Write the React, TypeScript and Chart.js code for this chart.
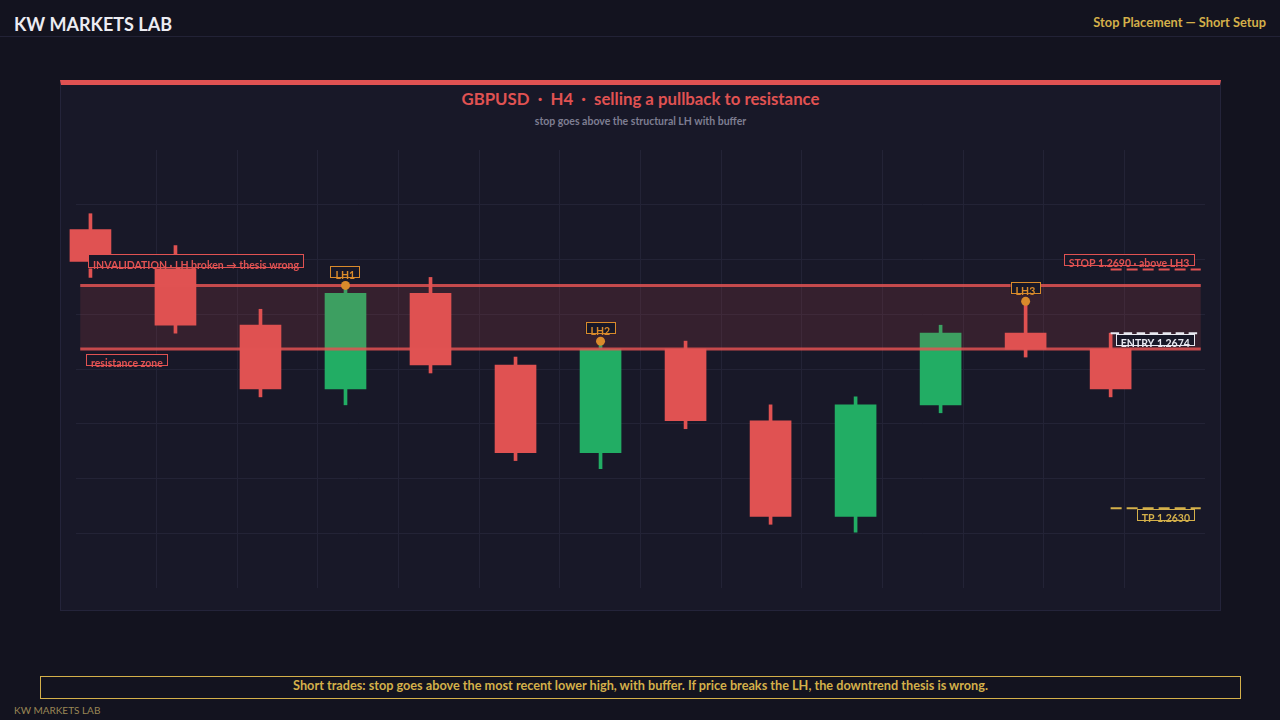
import { useEffect, useRef } from 'react';
import { Chart, registerables } from 'chart.js';

Chart.register(...registerables);

// candle data (GBPUSD H4)
const candleIdx = [0, 1, 2, 3, 4, 5, 6, 7, 8, 9, 10, 11, 12];
const opens = [1.2700, 1.2692, 1.2676, 1.2660, 1.2684, 1.2666, 1.2644, 1.2670, 1.2652, 1.2628, 1.2656, 1.2674, 1.2670];
const highs = [1.2704, 1.2696, 1.2680, 1.2686, 1.2688, 1.2668, 1.2672, 1.2672, 1.2656, 1.2658, 1.2676, 1.2682, 1.2674];
const lows = [1.2688, 1.2674, 1.2658, 1.2656, 1.2664, 1.2642, 1.2640, 1.2650, 1.2626, 1.2624, 1.2654, 1.2668, 1.2658];
const closes = [1.2692, 1.2676, 1.2660, 1.2684, 1.2666, 1.2644, 1.2670, 1.2652, 1.2628, 1.2656, 1.2674, 1.2670, 1.2660];

// lower highs
const lhIdx = [3, 6, 11];
const lhLabels = ['LH1', 'LH2', 'LH3'];

// levels
const ZONE_LOW = 1.2670;
const ZONE_HIGH = 1.2686;
const STOP = 1.2690;
const ENTRY = 1.2674;
const TP = 1.2630;

const X_MIN = -0.17;
const X_MAX = 13.11;
const ZONE_START = -0.12;
const LEVEL_START = 12;
const LEVEL_END = 13.06;
const Y_MIN = 1.2610;
const Y_MAX = 1.2720;

const RED = '#e05252';
const GREEN = '#22ad64';
const ORANGE = '#d98a2b';
const GOLD = '#d4b04a';
const WHITE = '#e8e8f0';
const PANEL = '#181828';
const GRID = '#232336';
const FAMILY = 'Lato, "Open Sans", sans-serif';
const FONT = `700 10.5px ${FAMILY}`;

const BODY_DS = 4;

type Anchor = 'left' | 'right' | 'center';

function tag(ctx: CanvasRenderingContext2D, text: string, x: number, top: number, anchor: Anchor, border: string, color: string, h = 12) {
  ctx.font = FONT;
  const w = Math.round(ctx.measureText(text).width + 10);
  const left = anchor === 'left' ? x : anchor === 'right' ? x - w : x - w / 2;
  ctx.fillStyle = PANEL;
  ctx.fillRect(left, top, w, h);
  ctx.fillStyle = color;
  ctx.textBaseline = 'alphabetic';
  ctx.textAlign = 'left';
  ctx.fillText(text, left + 5, top + h + 0.5);
  ctx.strokeStyle = border;
  ctx.lineWidth = 1;
  ctx.strokeRect(Math.round(left) + 0.5, Math.round(top) + 0.5, w - 1, h - 1);
}

const overlayPlugin = {
  id: 'overlay',
  afterDatasetDraw(chart: any, args: any) {
    if (args.index !== BODY_DS) return;
    const { ctx, scales: { x, y } } = chart;
    const x0 = x.getPixelForValue(ZONE_START);
    const x1 = x.getPixelForValue(LEVEL_END);
    const yt = y.getPixelForValue(ZONE_HIGH);
    const yb = y.getPixelForValue(ZONE_LOW);
    ctx.save();
    ctx.fillStyle = 'rgba(224,82,82,0.15)';
    ctx.fillRect(x0, yt, x1 - x0, yb - yt);
    ctx.strokeStyle = 'rgba(224,82,82,0.85)';
    ctx.lineWidth = 3;
    ctx.beginPath();
    ctx.moveTo(x0, yt); ctx.lineTo(x1, yt);
    ctx.moveTo(x0, yb); ctx.lineTo(x1, yb);
    ctx.stroke();
    ctx.restore();
  },
  afterDatasetsDraw(chart: any) {
    const { ctx, chartArea, scales: { x, y } } = chart;
    ctx.save();
    tag(ctx, 'INVALIDATION · LH broken → thesis wrong', chartArea.left + 12, y.getPixelForValue(STOP) - 15, 'left', RED, RED, 14);
    tag(ctx, 'resistance zone', chartArea.left + 10, y.getPixelForValue(ZONE_LOW) + 5, 'left', RED, RED);
    lhIdx.forEach((i, k) => {
      tag(ctx, lhLabels[k], x.getPixelForValue(i), y.getPixelForValue(highs[i]) - 19, 'center', ORANGE, ORANGE);
    });
    const right = x.getPixelForValue(LEVEL_END) - 6;
    tag(ctx, 'STOP 1.2690 · above LH3', right, y.getPixelForValue(STOP) - 15, 'right', RED, RED);
    tag(ctx, 'ENTRY 1.2674', right, y.getPixelForValue(ENTRY) + 1, 'right', WHITE, WHITE);
    tag(ctx, 'TP 1.2630', right, y.getPixelForValue(TP) + 1, 'right', GOLD, GOLD);
    ctx.restore();
  },
};

function CandleChart() {
  const canvasRef = useRef<HTMLCanvasElement | null>(null);
  const chartRef = useRef<Chart | null>(null);

  useEffect(() => {
    if (!canvasRef.current) return;
    if (chartRef.current) chartRef.current.destroy();

    const candleColors = candleIdx.map(i => (closes[i] >= opens[i] ? GREEN : RED));
    const levelLine = (v: number, color: string, dash: number[]) => ({
      type: 'line' as const,
      data: [{ x: LEVEL_START, y: v }, { x: LEVEL_END, y: v }],
      borderColor: color,
      borderWidth: 2,
      borderDash: dash,
      pointRadius: 0,
    });

    chartRef.current = new Chart(canvasRef.current, {
      type: 'bar',
      data: {
        datasets: [
          levelLine(STOP, RED, [11, 5]) as any,
          levelLine(ENTRY, WHITE, [8.5, 4.5]) as any,
          levelLine(TP, GOLD, [11, 5]) as any,
          {
            type: 'scatter',
            data: lhIdx.map(i => ({ x: i, y: highs[i] })),
            backgroundColor: ORANGE,
            borderWidth: 0,
            pointRadius: 4.5,
          } as any,
          {
            data: candleIdx.map(i => ({ x: i, y: [opens[i], closes[i]] })),
            backgroundColor: candleColors,
            borderWidth: 0,
            barThickness: 41,
            grouped: false,
            clip: false,
          } as any,
          {
            data: candleIdx.map(i => ({ x: i, y: [lows[i], highs[i]] })),
            backgroundColor: candleColors,
            borderWidth: 0,
            barThickness: 3,
            grouped: false,
            clip: false,
          } as any,
        ],
      },
      options: {
        responsive: true,
        maintainAspectRatio: false,
        animation: false,
        layout: { padding: { left: 16, right: 16, top: 70, bottom: 23 } },
        plugins: { legend: { display: false }, tooltip: { enabled: false } },
        scales: {
          x: {
            type: 'linear',
            min: X_MIN,
            max: X_MAX,
            offset: false,
            ticks: { display: false },
            border: { display: false },
            grid: { color: GRID, lineWidth: 1, offset: false, drawTicks: false },
            afterBuildTicks: (axis: any) => {
              const step = (X_MAX - X_MIN) / 14;
              axis.ticks = Array.from({ length: 13 }, (_, k) => ({ value: X_MIN + (k + 1) * step }));
            },
          },
          y: {
            type: 'linear',
            min: Y_MIN,
            max: Y_MAX,
            ticks: { display: false },
            border: { display: false },
            grid: { color: GRID, lineWidth: 1, drawTicks: false },
            afterBuildTicks: (axis: any) => {
              const step = (Y_MAX - Y_MIN) / 8;
              axis.ticks = Array.from({ length: 7 }, (_, k) => ({ value: Y_MIN + (k + 1) * step }));
            },
          },
        },
      } as any,
      plugins: [overlayPlugin],
    });

    return () => {
      if (chartRef.current) {
        chartRef.current.destroy();
        chartRef.current = null;
      }
    };
  }, []);

  return (
    <div style={{ position: 'absolute', left: 60, top: 80, width: 1161, height: 531 }}>
      <canvas ref={canvasRef} aria-label="GBPUSD H4 candlestick chart" />
    </div>
  );
}

const txt = (top: number, size: number): React.CSSProperties => ({
  position: 'absolute',
  top,
  fontSize: size,
  lineHeight: `${size}px`,
  whiteSpace: 'nowrap',
});

export default function App() {
  return (
    <div style={{ position: 'fixed', left: 0, top: 0, width: 1280, height: 720, background: '#13131f', fontFamily: FAMILY, overflow: 'hidden' }}>
      <div style={{ ...txt(14.7, 18), left: 14, fontWeight: 700, color: '#ececf2' }}>KW MARKETS LAB</div>
      <div style={{ ...txt(16, 12.8), right: 14, fontWeight: 700, color: GOLD }}>Stop Placement — Short Setup</div>
      <div style={{ position: 'absolute', left: 0, top: 36, width: 1280, height: 1, background: '#222236' }} />

      <div style={{ position: 'absolute', left: 60, top: 80, width: 1161, height: 531, boxSizing: 'border-box', background: PANEL, border: '1px solid #24243a', borderTop: `5px solid ${RED}` }} />
      <div style={{ ...txt(91, 16.8), left: 60, width: 1161, textAlign: 'center', fontWeight: 700, color: RED }}>
        GBPUSD&nbsp; · &nbsp;H4&nbsp; · &nbsp;selling a pullback to resistance
      </div>
      <div style={{ ...txt(116, 10.5), left: 60, width: 1161, textAlign: 'center', fontWeight: 700, color: '#7e7e92' }}>
        stop goes above the structural LH with buffer
      </div>
      <CandleChart />

      <div style={{ position: 'absolute', left: 40, top: 676, width: 1201, height: 23, boxSizing: 'border-box', border: `1px solid ${GOLD}` }} />
      <div style={{ ...txt(678.7, 12.7), left: 40, width: 1201, textAlign: 'center', fontWeight: 700, color: GOLD }}>
        Short trades: stop goes above the most recent lower high, with buffer. If price breaks the LH, the downtrend thesis is wrong.
      </div>
      <div style={{ ...txt(705.1, 10), left: 14, color: '#9a8756' }}>KW MARKETS LAB</div>
    </div>
  );
}
